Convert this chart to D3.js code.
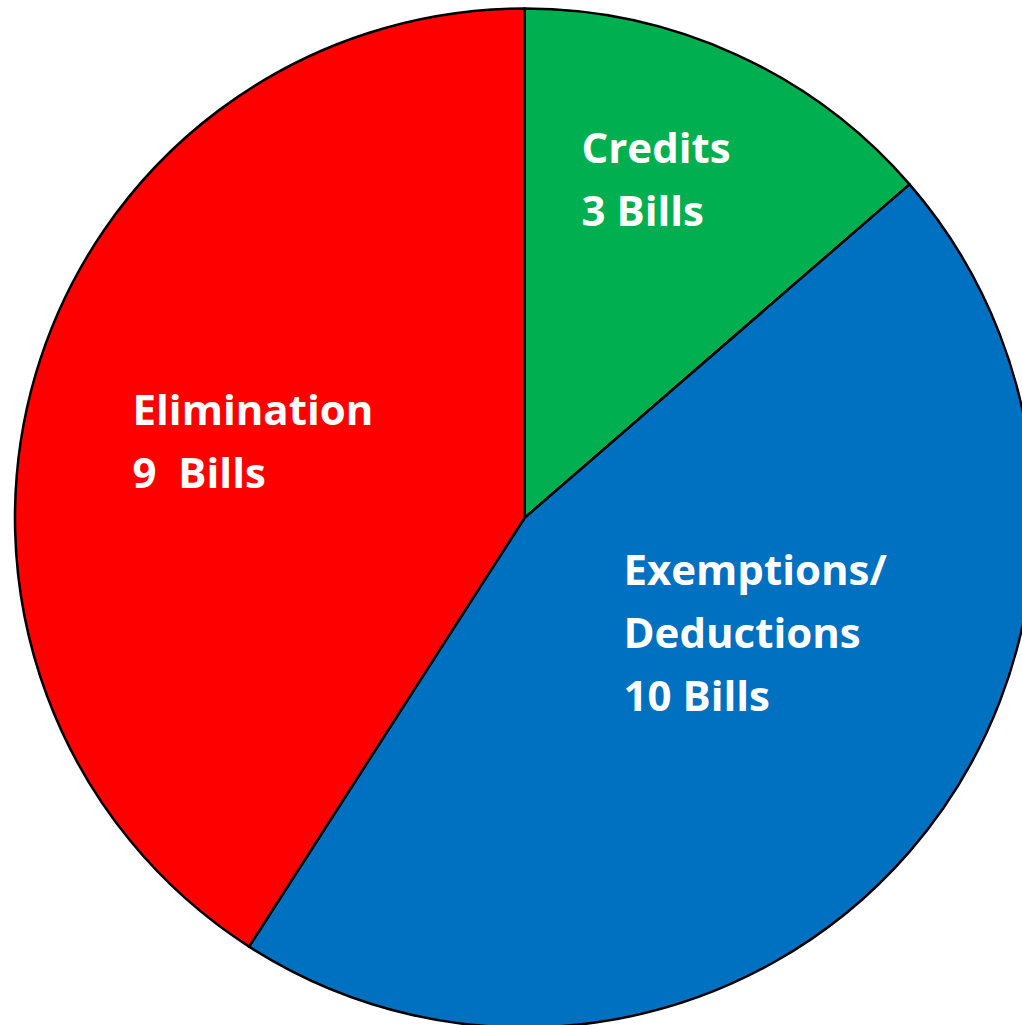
<!DOCTYPE html>
<html>
<head>
<meta charset="utf-8">
<script src="https://cdn.jsdelivr.net/npm/d3@7"></script>
<style>
  html, body { margin: 0; padding: 0; background: #fff; }
  svg { display: block; }
</style>
</head>
<body>
<svg id="chart" width="1022" height="1025"></svg>
<script>
// Bill counts by type of tax change
const categories = ["Credits", "Exemptions/ Deductions", "Elimination"];
const labelLines = [["Credits", "3 Bills"], ["Exemptions/", "Deductions", "10 Bills"], ["Elimination", "9\u00A0 Bills"]];
const values = [3, 10, 9];
const colors = ["#00B050", "#0070C0", "#FF0000"];

const width = 1022, height = 1025;
const cx = 524.5, cy = 518, radius = 509.5;

// label anchors (left edge, first baseline) relative to the pie centre
const labelOffsets = [[57, -355], [99, 67], [-392, -93]];
const lineHeight = 63;

const svg = d3.select("#chart");
const g = svg.append("g").attr("transform", `translate(${cx},${cy})`);

const pie = d3.pie().sort(null).value(d => d)(values);
const arc = d3.arc().innerRadius(0).outerRadius(radius);

g.selectAll("path.slice")
  .data(pie)
  .join("path")
  .attr("class", "slice")
  .attr("d", arc)
  .attr("fill", (d, i) => colors[i])
  .attr("stroke", "#000")
  .attr("stroke-width", 2.5)
  .attr("stroke-linejoin", "round");

const labels = g.selectAll("text.label")
  .data(pie)
  .join("text")
  .attr("class", "label")
  .attr("x", (d, i) => labelOffsets[i][0])
  .attr("y", (d, i) => labelOffsets[i][1])
  .attr("fill", "#fff")
  .attr("font-family", "'Open Sans', sans-serif")
  .attr("font-weight", 700)
  .attr("font-size", 42);

labels.selectAll("tspan")
  .data((d, i) => labelLines[i].map(t => ({ t, i })))
  .join("tspan")
  .attr("x", d => labelOffsets[d.i][0])
  .attr("dy", (d, j) => j === 0 ? 0 : lineHeight)
  .text(d => d.t);
</script>
</body>
</html>
